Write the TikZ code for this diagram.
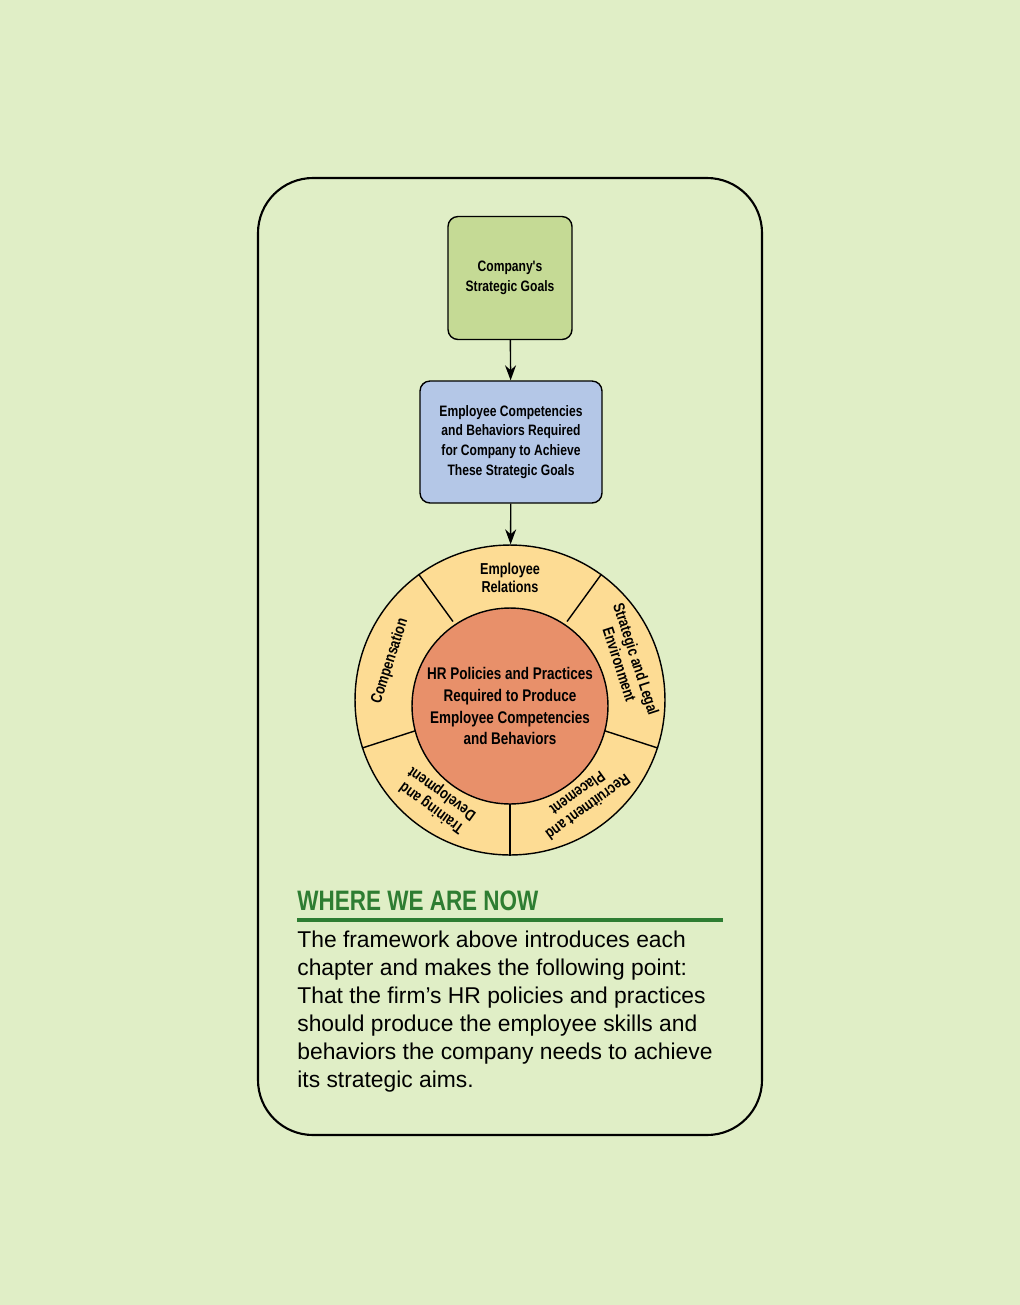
\documentclass[tikz,border=0pt]{standalone}
\usepackage{fontspec}
\setmainfont{Liberation Sans}
\newfontfamily\narrowfont[FakeStretch=0.8]{Liberation Sans}
\usetikzlibrary{positioning, arrows.meta, calc}
\definecolor{pagebg}{HTML}{E0EEC6}
\definecolor{goalgreen}{HTML}{C5DA95}
\definecolor{compblue}{HTML}{B4C7E7}
\definecolor{ringyellow}{HTML}{FDDC94}
\definecolor{hrorange}{HTML}{E8906A}
\definecolor{titlegreen}{HTML}{2E7D32}

\begin{document}
\begin{tikzpicture}[
    x=0.02cm, y=-0.02cm,
    box/.style={rectangle, rounded corners=2mm, draw=black, thick, align=center,
                font=\narrowfont\bfseries\fontsize{8.6}{11.3}\selectfont},
    arrow/.style={-{Stealth[length=3mm, width=2.2mm]}, thick},
    ringlabel/.style={align=center, font=\narrowfont\bfseries\fontsize{9}{10}\selectfont}
]
% --- Fondo ---
\fill[pagebg] (0,0) rectangle (1020,1305);
\useasboundingbox (0,0) rectangle (1020,1305);
\draw[line width=1.2pt, rounded corners=1.1cm] (258,178) rectangle (762,1135);

% --- Cajas ---
\node[box, fill=goalgreen, minimum width=2.48cm, minimum height=2.46cm] (goals) at (510,278)
    {Company's\\Strategic Goals};
\node[box, fill=compblue, minimum width=3.64cm, minimum height=2.44cm] (comp) at (511,442)
    {Employee Competencies\\and Behaviors Required\\for Company to Achieve\\These Strategic Goals};

% --- Rueda ---
\node[circle, draw=black, thick, fill=ringyellow, minimum size=6.2cm, inner sep=0pt] (ring) at (510,700) {};
\foreach \a in {54,126,198,270,342}
    \draw[thick] (ring.center) ++(-\a:97) -- (ring.\a);
\node[circle, draw=black, thick, fill=hrorange, minimum size=3.92cm, inner sep=0pt, align=center,
      font=\narrowfont\bfseries\fontsize{9.6}{12.5}\selectfont] (hr) at (510,706)
    {HR Policies and Practices\\Required to Produce\\Employee Competencies\\and Behaviors};

\node[ringlabel, rotate=0] (rel) at ($(ring.center)+(-90:122)$) {Employee\\Relations};
\node[ringlabel, rotate=-72] (env) at ($(ring.center)+(-18:124)$) {Strategic and Legal\\Environment};
\node[ringlabel, rotate=-144] (rec) at ($(ring.center)+(54:124)$) {Recruitment and\\Placement};
\node[ringlabel, rotate=144] (train) at ($(ring.center)+(-234:124)$) {Training and\\Development};
\node[ringlabel, rotate=72] (pay) at ($(ring.center)+(-162:126)$) {Compensation};

% --- Flechas ---
\draw[arrow] (goals) -- (comp);
\draw[arrow] (comp) -- (ring);

% --- Texto inferior ---
\node[anchor=south west, inner sep=0pt, text=titlegreen,
      font=\narrowfont\bfseries\fontsize{16}{18}\selectfont] (title) at (297,911) {WHERE WE ARE NOW};
\draw[titlegreen, line width=2.2pt] (297,920) -- (723,920);
\node[anchor=north west, inner sep=0pt, align=left,
      font=\fontsize{13}{15.9}\selectfont] (para) at (297,931)
    {The framework above introduces each\\chapter and makes the following point:\\That the firm's HR policies and practices\\should produce the employee skills and\\behaviors the company needs to achieve\\its strategic aims.};
\end{tikzpicture}
\end{document}
